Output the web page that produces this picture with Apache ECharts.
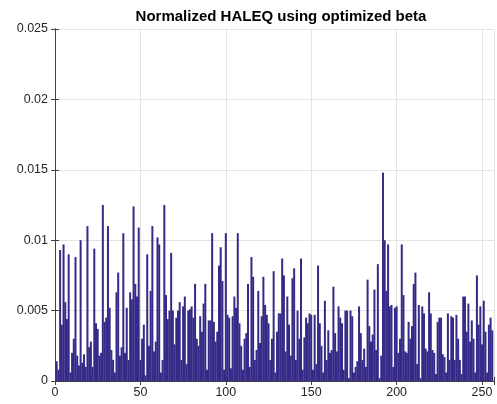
<!DOCTYPE html>
<html>
<head>
<meta charset="utf-8">
<script src="https://cdn.jsdelivr.net/npm/echarts@6/dist/echarts.min.js"></script>
<style>
  html, body { margin: 0; padding: 0; background: #fff; }
  #chart { width: 497px; height: 404px; }
</style>
</head>
<body>
<div id="chart"></div>
<script>
// bar heights for index 1..256
const haleq = [
  0.0014, 0.0008, 0.0093, 0.0040, 0.0097, 0.0056, 0.0044, 0.0090, 0.0006, 0.0020,
  0.0030, 0.0088, 0.0018, 0.0011, 0.0100, 0.0013, 0.0019, 0.0010, 0.0110, 0.0024,
  0.0028, 0.0010, 0.0094, 0.0041, 0.0037, 0.0018, 0.0020, 0.0125, 0.0042, 0.0045,
  0.0110, 0.0052, 0.0022, 0.0015, 0.0006, 0.0063, 0.0077, 0.0018, 0.0024, 0.0105,
  0.0020, 0.0052, 0.0015, 0.0063, 0.0058, 0.0124, 0.0069, 0.0060, 0.0109, 0.0015,
  0.0030, 0.0040, 0.0004, 0.0090, 0.0025, 0.0064, 0.0110, 0.0021, 0.0028, 0.0102,
  0.0097, 0.0006, 0.0015, 0.0125, 0.0061, 0.0044, 0.0050, 0.0091, 0.0050, 0.0026,
  0.0045, 0.0050, 0.0056, 0.0015, 0.0053, 0.0060, 0.0012, 0.0050, 0.0051, 0.0053,
  0.0045, 0.0069, 0.0030, 0.0025, 0.0046, 0.0035, 0.0055, 0.0069, 0.0008, 0.0043,
  0.0043, 0.0105, 0.0042, 0.0028, 0.0035, 0.0082, 0.0095, 0.0071, 0.0008, 0.0105,
  0.0047, 0.0045, 0.0009, 0.0046, 0.0060, 0.0052, 0.0105, 0.0041, 0.0025, 0.0008,
  0.0030, 0.0034, 0.0069, 0.0010, 0.0088, 0.0074, 0.0015, 0.0022, 0.0064, 0.0027,
  0.0046, 0.0074, 0.0054, 0.0047, 0.0041, 0.0015, 0.0030, 0.0078, 0.0006, 0.0035,
  0.0048, 0.0048, 0.0087, 0.0075, 0.0021, 0.0060, 0.0040, 0.0018, 0.0073, 0.0080,
  0.0015, 0.0050, 0.0030, 0.0087, 0.0008, 0.0031, 0.0045, 0.0041, 0.0048, 0.0047,
  0.0008, 0.0047, 0.0012, 0.0082, 0.0041, 0.0025, 0.0006, 0.0057, 0.0015, 0.0036,
  0.0020, 0.0022, 0.0067, 0.0034, 0.0021, 0.0053, 0.0045, 0.0041, 0.0008, 0.0050,
  0.0050, 0.0002, 0.0050, 0.0046, 0.0006, 0.0010, 0.0014, 0.0053, 0.0034, 0.0015,
  0.0023, 0.0010, 0.0072, 0.0039, 0.0028, 0.0033, 0.0065, 0.0022, 0.0083, 0.0002,
  0.0018, 0.0148, 0.0100, 0.0064, 0.0097, 0.0053, 0.0054, 0.0010, 0.0052, 0.0053,
  0.0020, 0.0030, 0.0097, 0.0061, 0.0021, 0.0020, 0.0042, 0.0030, 0.0039, 0.0069,
  0.0077, 0.0012, 0.0054, 0.0002, 0.0053, 0.0048, 0.0023, 0.0021, 0.0063, 0.0048,
  0.0022, 0.0020, 0.0005, 0.0042, 0.0045, 0.0045, 0.0019, 0.0017, 0.0006, 0.0048,
  0.0015, 0.0046, 0.0045, 0.0015, 0.0047, 0.0030, 0.0015, 0.0005, 0.0060, 0.0060,
  0.0035, 0.0055, 0.0028, 0.0043, 0.0030, 0.0006, 0.0075, 0.0040, 0.0053, 0.0026,
  0.0057, 0.0035, 0.0006, 0.0040, 0.0045, 0.0036
]
const xTicks = [0, 50, 100, 150, 200, 250]
const yTicks = [0, 0.005, 0.01, 0.015, 0.02, 0.025]

const axisColor = '#404040'
const gridColor = '#e3e3e3'
const font = 'Liberation Sans, Arial, Helvetica, sans-serif'

let chart = echarts.init(document.getElementById('chart'))

const barData = haleq.map((v, i) => [i + 1, v])

const option = {
  animation: false,
  title: {
    text: 'Normalized HALEQ using optimized beta',
    left: 276,
    textAlign: 'center',
    top: 4,
    textStyle: { fontFamily: font, fontSize: 15, fontWeight: 'bold', color: '#000' }
  },
  grid: { left: 55, right: 1, top: 29, bottom: 23, containLabel: false },
  xAxis: [
    {
      type: 'value',
      min: 0,
      max: 257,
      interval: 50,
      axisLine: { show: true, lineStyle: { color: axisColor } },
      axisTick: { show: true, inside: true, length: 4, lineStyle: { color: axisColor } },
      splitLine: { show: true, lineStyle: { color: gridColor } },
      axisLabel: {
        color: '#262626',
        fontFamily: font,
        fontSize: 12.5,
        margin: 5,
        formatter(value) {
          return xTicks.includes(value) ? String(value) : ''
        }
      }
    },
    {
      type: 'value',
      position: 'top',
      min: 0,
      max: 257,
      interval: 50,
      axisLine: { show: true, lineStyle: { color: axisColor } },
      axisTick: { show: true, inside: true, length: 4, lineStyle: { color: axisColor } },
      splitLine: { show: false },
      axisLabel: { show: false }
    }
  ],
  yAxis: [
    {
      type: 'value',
      min: 0,
      max: 0.025,
      interval: 0.005,
      axisLine: { show: true, lineStyle: { color: axisColor } },
      axisTick: { show: true, inside: true, length: 4, lineStyle: { color: axisColor } },
      splitLine: { show: true, lineStyle: { color: gridColor } },
      axisLabel: {
        color: '#262626',
        fontFamily: font,
        fontSize: 12.5,
        margin: 7,
        formatter(value) {
          let hit = yTicks.find(t => Math.abs(t - value) < 1e-9)
          return hit === undefined ? '' : String(hit)
        }
      }
    },
    {
      type: 'value',
      position: 'right',
      min: 0,
      max: 0.025,
      interval: 0.005,
      axisLine: { show: true, lineStyle: { color: axisColor } },
      axisTick: { show: true, inside: true, length: 4, lineStyle: { color: axisColor } },
      splitLine: { show: false },
      axisLabel: { show: false }
    }
  ],
  series: [
    {
      name: 'HALEQ',
      type: 'bar',
      xAxisIndex: 0,
      yAxisIndex: 0,
      data: barData,
      barWidth: 2,
      itemStyle: { color: '#352a87' }
    }
  ]
}

chart.setOption(option)
</script>
</body>
</html>
